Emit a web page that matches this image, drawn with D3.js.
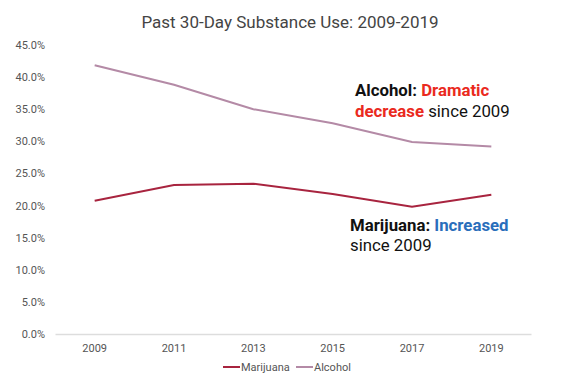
<!doctype html>
<html>
  <head>
    <meta charset="utf-8">
    <title>Past 30-Day Substance Use</title>
    <script src="https://cdn.jsdelivr.net/npm/d3@7"></script>
    <style>
      body { margin: 0; background: #fff; }
      text { font-family: Roboto, "Noto Sans", sans-serif; }
    </style>
  </head>
  <body>
    <script>
      const years = ['2009', '2011', '2013', '2015', '2017', '2019'];
      const marijuana = [20.75, 23.2, 23.4, 21.8, 19.8, 21.7];
      const alcohol = [41.85, 38.8, 35.0, 32.8, 29.9, 29.2];
      const yTicks = [0, 5, 10, 15, 20, 25, 30, 35, 40, 45];

      const width = 579, height = 386;
      const margin = {top: 45, right: 48, bottom: 52, left: 55};

      const svg = d3.select('body').append('svg')
          .attr('width', width)
          .attr('height', height);

      const x = d3.scaleBand()
          .domain(years)
          .range([margin.left, width - margin.right]);

      const y = d3.scaleLinear()
          .domain([0, 45])
          .range([height - margin.bottom, margin.top]);

      // title
      svg.append('text')
          .attr('x', 290).attr('y', 28)
          .attr('text-anchor', 'middle')
          .attr('font-size', 17)
          .attr('fill', '#444')
          .text('Past 30-Day Substance Use: 2009-2019');

      // y axis labels
      svg.append('g')
          .attr('transform', `translate(${margin.left},0)`)
          .call(d3.axisLeft(y).tickValues(yTicks).tickFormat(d => d.toFixed(1) + '%').tickSize(0).tickPadding(10))
          .call(g => g.select('.domain').remove())
          .selectAll('text')
            .attr('font-size', 11)
            .attr('fill', '#555')
            .style('font-family', 'Roboto, sans-serif');

      // x axis
      svg.append('g')
          .attr('transform', `translate(0,${y(0)})`)
          .call(d3.axisBottom(x).tickSize(0).tickPadding(10))
          .call(g => g.select('.domain').attr('stroke', '#ddd').attr('stroke-width', 1.5))
          .selectAll('text')
            .attr('font-size', 11)
            .attr('fill', '#555')
            .style('font-family', 'Roboto, sans-serif');

      const series = [
        {name: 'Marijuana', values: marijuana, color: '#a8243f'},
        {name: 'Alcohol', values: alcohol, color: '#b48aa6'}
      ];

      const line = d3.line()
          .x((d, i) => x(years[i]) + x.bandwidth() / 2)
          .y(d => y(d));

      svg.selectAll('.series')
        .data(series)
        .enter().append('path')
          .attr('fill', 'none')
          .attr('stroke', d => d.color)
          .attr('stroke-width', 2)
          .attr('d', d => line(d.values));

      // annotations
      const note = svg.append('g').attr('font-size', 16.8);
      const a1 = note.append('text').attr('x', 355).attr('y', 96);
      a1.append('tspan').attr('font-weight', 'bold').attr('fill', '#111').text('Alcohol: ');
      a1.append('tspan').attr('font-weight', 'bold').attr('fill', '#ea2a1e').text('Dramatic');
      const a2 = note.append('text').attr('x', 355).attr('y', 117);
      a2.append('tspan').attr('font-weight', 'bold').attr('fill', '#ea2a1e').text('decrease');
      a2.append('tspan').attr('fill', '#111').text(' since 2009');

      const m1 = note.append('text').attr('x', 350).attr('y', 231);
      m1.append('tspan').attr('font-weight', 'bold').attr('fill', '#111').text('Marijuana: ');
      m1.append('tspan').attr('font-weight', 'bold').attr('fill', '#2a6ebb').text('Increased');
      note.append('text').attr('x', 350).attr('y', 251).attr('fill', '#111').text('since 2009');

      // legend
      const legend = svg.append('g').attr('font-size', 11).attr('fill', '#555');
      const lx = [223, 296];
      series.forEach((s, i) => {
        legend.append('line')
            .attr('x1', lx[i]).attr('x2', lx[i] + 17)
            .attr('y1', 367).attr('y2', 367)
            .attr('stroke', s.color).attr('stroke-width', 2);
        legend.append('text')
            .attr('x', lx[i] + 18).attr('y', 371)
            .text(s.name);
      });
    </script>
  </body>
</html>
